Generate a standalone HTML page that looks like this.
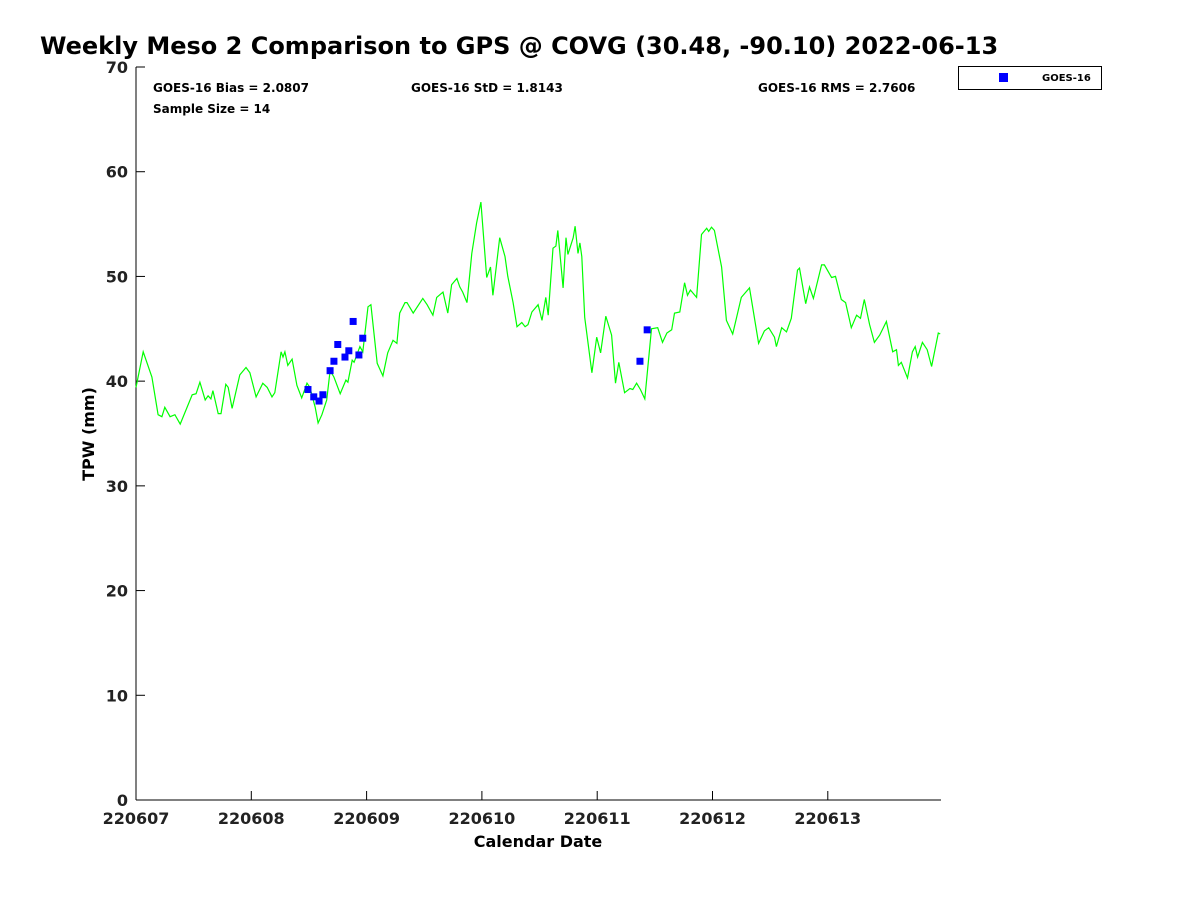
<!DOCTYPE html>
<html><head><meta charset="utf-8"><style>
body{margin:0;background:#fff;width:1200px;height:900px;overflow:hidden;font-family:"Liberation Sans","DejaVu Sans",sans-serif}
</style></head><body>
<svg id="chart" width="1200" height="900" xmlns="http://www.w3.org/2000/svg" font-family="DejaVu Sans, Liberation Sans, sans-serif">
<text x="40" y="54" font-size="24" font-weight="bold">Weekly Meso 2 Comparison to GPS @ COVG (30.48, -90.10) 2022-06-13</text>
<text x="153" y="92" font-size="12" font-weight="bold">GOES-16 Bias = 2.0807</text>
<text x="411" y="92" font-size="12" font-weight="bold">GOES-16 StD = 1.8143</text>
<text x="758" y="92" font-size="12" font-weight="bold">GOES-16 RMS = 2.7606</text>
<text x="153" y="113" font-size="12" font-weight="bold">Sample Size = 14</text>
<g>
<rect x="958.5" y="66.5" width="143" height="23" fill="#fff" stroke="#000"/>
<rect x="999" y="73" width="9" height="9" fill="#0000ff"/>
<text x="1042" y="81" font-size="10" font-weight="bold">GOES-16</text>
</g>
<text transform="translate(94,434) rotate(-90)" text-anchor="middle" font-size="16" font-weight="bold">TPW (mm)</text>
<text x="538" y="847" text-anchor="middle" font-size="16" font-weight="bold">Calendar Date</text>
<g id="axes"></g>
<g id="marks"></g>
</svg>
<script>
const hours=[0,1.5,3.3,4.6,5.4,6.0,7.1,8.1,9.2,11.7,12.5,13.3,14.4,15.0,15.6,16.0,17.1,17.7,18.7,19.2,20.0,21.6,22.9,23.7,25.0,26.4,27.3,28.3,28.9,30.2,30.6,31.0,31.6,32.5,33.5,34.5,35.6,36.2,37.3,37.9,38.7,39.7,40.4,41.2,42.5,43.7,44.1,45.0,45.4,46.6,47.2,48.3,48.9,50.2,51.4,52.4,53.5,54.3,54.9,56.0,56.4,57.7,59.7,60.6,61.8,62.6,63.9,64.9,65.7,66.8,67.4,68.0,68.9,69.9,70.9,71.8,73.0,73.8,74.3,75.7,76.8,77.4,78.5,79.3,80.3,81.0,81.6,82.4,83.7,84.5,85.3,85.8,86.8,87.4,87.8,88.9,89.5,89.9,91.0,91.4,92.0,92.4,92.8,93.4,94.9,95.9,96.7,97.8,99.0,99.8,100.5,101.7,102.8,103.4,104.2,105.0,105.9,107.3,108.6,109.6,110.5,111.5,112.1,113.2,114.2,114.8,115.4,116.7,117.7,118.8,119.2,119.8,120.4,121.9,122.9,124.2,126.0,127.7,129.6,130.8,131.7,132.9,133.3,134.4,135.4,136.4,137.7,138.1,139.4,140.2,141.0,142.7,143.3,144.8,145.6,146.8,147.7,148.9,150.0,150.8,151.6,152.7,153.7,154.8,156.2,157.5,158.3,158.7,159.3,160.6,161.6,162.2,162.7,163.7,164.7,165.6,167.0,167.4];
const gpsTpw=[39.4,42.8,40.4,36.8,36.6,37.5,36.6,36.8,35.9,38.7,38.8,39.9,38.2,38.6,38.3,39.1,36.9,36.9,39.7,39.4,37.4,40.6,41.3,40.8,38.5,39.8,39.4,38.5,38.9,42.8,42.3,42.8,41.5,42.1,39.6,38.4,39.8,39.4,37.5,36.0,36.8,38.2,41.0,40.4,38.8,40.1,39.9,42.0,41.8,43.3,42.8,47.1,47.3,41.7,40.5,42.7,43.9,43.6,46.5,47.5,47.5,46.5,47.9,47.3,46.3,48.0,48.5,46.5,49.2,49.8,49.0,48.5,47.5,52.2,55.1,57.1,49.9,50.9,48.2,53.7,51.9,50.0,47.5,45.2,45.6,45.2,45.4,46.6,47.3,45.8,48.0,46.3,52.7,52.9,54.4,48.9,53.7,52.1,53.7,54.8,52.2,53.2,51.9,46.1,40.8,44.2,42.7,46.2,44.4,39.8,41.8,38.9,39.3,39.2,39.8,39.2,38.3,45.0,45.1,43.7,44.6,44.9,46.5,46.6,49.4,48.2,48.7,48.0,54.0,54.6,54.3,54.7,54.4,50.9,45.8,44.5,48.0,48.9,43.6,44.8,45.1,44.2,43.3,45.1,44.7,46.0,50.6,50.8,47.4,49.0,47.9,51.1,51.1,49.9,50.0,47.8,47.5,45.1,46.3,46.0,47.8,45.4,43.7,44.4,45.7,42.8,43.0,41.5,41.8,40.3,42.8,43.3,42.3,43.7,43.0,41.4,44.6,44.5];
const goesHours=[35.8,37.0,38.1,38.9,40.4,41.2,42.0,43.5,44.3,45.2,46.4,47.2,104.9,106.4];
const goesTpw=[39.2,38.5,38.1,38.7,41.0,41.9,43.5,42.3,42.9,45.7,42.5,44.1,41.9,44.9];
const yTicks=[0,10,20,30,40,50,60,70];
const xTickLabels=["220607","220608","220609","220610","220611","220612","220613"];
const NS="http://www.w3.org/2000/svg";
const X0=136,X1=941,Y0=800,YTOP=67,DAYPX=115.3;
function xs(h){return X0+h/24*DAYPX;}
function ys(v){return Y0-v*(Y0-YTOP)/70;}
function mk(tag,attrs,parent){const e=document.createElementNS(NS,tag);for(const k in attrs)e.setAttribute(k,attrs[k]);parent.appendChild(e);return e;}
const axes=document.getElementById('axes'),marks=document.getElementById('marks');
let a=mk('line',{x1:X0,y1:YTOP,x2:X0,y2:Y0,stroke:'#000','stroke-width':1},axes);


a=mk('line',{x1:X0,y1:Y0,x2:X1,y2:Y0,stroke:'#000','stroke-width':1},axes);


yTicks.forEach(v=>{
  const t=mk('line',{x1:X0,y1:ys(v),x2:X0+9,y2:ys(v),stroke:'#000'},axes);
  
  
  const l=mk('text',{x:X0-8,y:ys(v)+6,'text-anchor':'end','font-size':16,'font-weight':'bold',fill:'#222'},axes);
  l.textContent=v;
  
  
});
xTickLabels.forEach((s,i)=>{
  const x=xs(i*24);
  const t=mk('line',{x1:x,y1:Y0,x2:x,y2:Y0-9,stroke:'#000'},axes);
  
  
  const l=mk('text',{x:x,y:Y0+24,'text-anchor':'middle','font-size':16,'font-weight':'bold',fill:'#222'},axes);
  l.textContent=s;
  
  
});
const pts=hours.map((h,i)=>xs(h).toFixed(1)+','+ys(gpsTpw[i]).toFixed(1)).join(' ');
const line=mk('polyline',{points:pts,fill:'none',stroke:'#00ff00','stroke-width':1.2},marks);


goesHours.forEach((h,i)=>{
  const r=mk('rect',{x:xs(h)-3.5,y:ys(goesTpw[i])-3.5,width:7,height:7,fill:'#0000ff'},marks);
  
  
});
</script>
</body></html>
